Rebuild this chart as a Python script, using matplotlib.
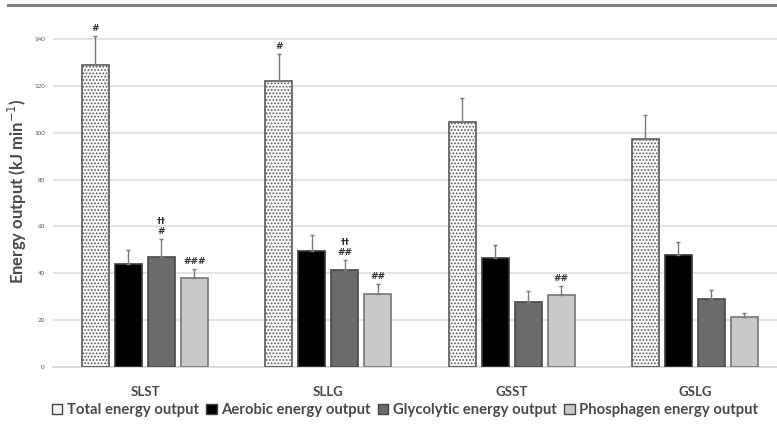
import matplotlib
matplotlib.use("Agg")
import matplotlib.pyplot as plt
import numpy as np
from matplotlib.patches import Patch

plt.rcParams['font.family'] = ['Lato', 'DejaVu Sans']

categories = ["SLST", "SLLG", "GSST", "GSLG"]
series_names = ["Total energy output", "Aerobic energy output",
                "Glycolytic energy output", "Phosphagen energy output"]
total = [128.9, 122.0, 104.6, 97.3]
total_err = [12.4, 11.6, 10.2, 10.2]
aerobic = [44.0, 49.5, 46.5, 47.8]
aerobic_err = [6.0, 6.8, 5.5, 5.5]
glycolytic = [47.0, 41.4, 27.7, 29.0]
glycolytic_err = [7.6, 4.3, 4.7, 3.9]
phosphagen = [38.0, 31.0, 30.7, 21.3]
phosphagen_err = [4.0, 4.4, 3.9, 1.7]
annotations = {
    (0, 0): "#", (1, 0): "#",
    (0, 2): "††\n#", (0, 3): "###",
    (1, 2): "††\n##", (1, 3): "##",
    (2, 3): "##",
}

values = [total, aerobic, glycolytic, phosphagen]
errors = [total_err, aerobic_err, glycolytic_err, phosphagen_err]
faces = ["#f7f7f7", "#000000", "#6b6b6b", "#c9c9c9"]
edges = ["#5a5a5a", "#3a3a3a", "#4a4a4a", "#777777"]
hatches = [".....", None, None, None]

fig = plt.figure(figsize=(7.77, 4.25), dpi=100)
ax = fig.add_axes([53.3 / 777, 58 / 425, 733.3 / 777, 351.5 / 425])

x = np.arange(len(categories))
offsets = [-0.27, -0.09, 0.09, 0.27]
width = 0.147
plt.rcParams['hatch.color'] = '#b5b5b5'
plt.rcParams['hatch.linewidth'] = 0.8
for i in range(4):
    ax.bar(x + offsets[i], values[i], width, color=faces[i], edgecolor=edges[i],
           linewidth=1.2, hatch=hatches[i], zorder=3)
    ax.errorbar(x + offsets[i], values[i], yerr=[np.zeros(4), errors[i]], fmt='none',
                ecolor='#7a7a7a', elinewidth=1.0, capsize=1.5, capthick=1.0, zorder=4)

for (c, s), txt in annotations.items():
    top = values[s][c] + errors[s][c]
    ax.text(x[c] + offsets[s], top + 1.2, txt, ha='center', va='bottom',
            fontsize=6.5, fontweight='bold', color='#333333', linespacing=1.2,
            family=['DejaVu Sans'])

ax.set_xlim(-0.5, 3.5)
ax.set_ylim(0, 150)
ax.set_yticks(np.arange(0, 141, 20))
ax.yaxis.grid(True, color='#e3e3e3', linewidth=1.5, zorder=0)
ax.set_axisbelow(True)
for sp in ['top', 'right', 'left']:
    ax.spines[sp].set_visible(False)
ax.spines['bottom'].set_color('#d6d6d6')
ax.spines['bottom'].set_linewidth(1.2)
ax.tick_params(axis='y', length=0, labelsize=4.5, labelcolor='#555555', pad=6)
ax.tick_params(axis='x', length=0, pad=14)
ax.set_xticks(x)
ax.set_xticklabels(categories, fontsize=9.5, fontweight='bold', color='#4a4a4a')
ax.set_ylabel("Energy output (kJ min$^{-1}$)", fontsize=12, fontweight='bold',
              color='#4a4a4a')
ax.yaxis.set_label_coords(-(53.3 - 29) / 733.3, (367 - 191) / 351.5)

handles = [Patch(facecolor=faces[i], edgecolor='#444444', hatch=None, linewidth=1.0)
           for i in range(4)]
fig.legend(handles, series_names, loc='center', bbox_to_anchor=(405 / 777, 1 - 410 / 425),
           ncol=4, frameon=False, handlelength=0.7, handleheight=0.7,
           handletextpad=0.3, columnspacing=0.5, prop={'weight': 'bold', 'size': 10.7})
for t in fig.legends[0].get_texts():
    t.set_color('#4a4a4a')

fig.add_artist(plt.Line2D([8 / 777, 1], [1 - 5 / 425, 1 - 5 / 425], color='#808080',
                          linewidth=2.2, transform=fig.transFigure))

fig.savefig("out.png", dpi=100)
